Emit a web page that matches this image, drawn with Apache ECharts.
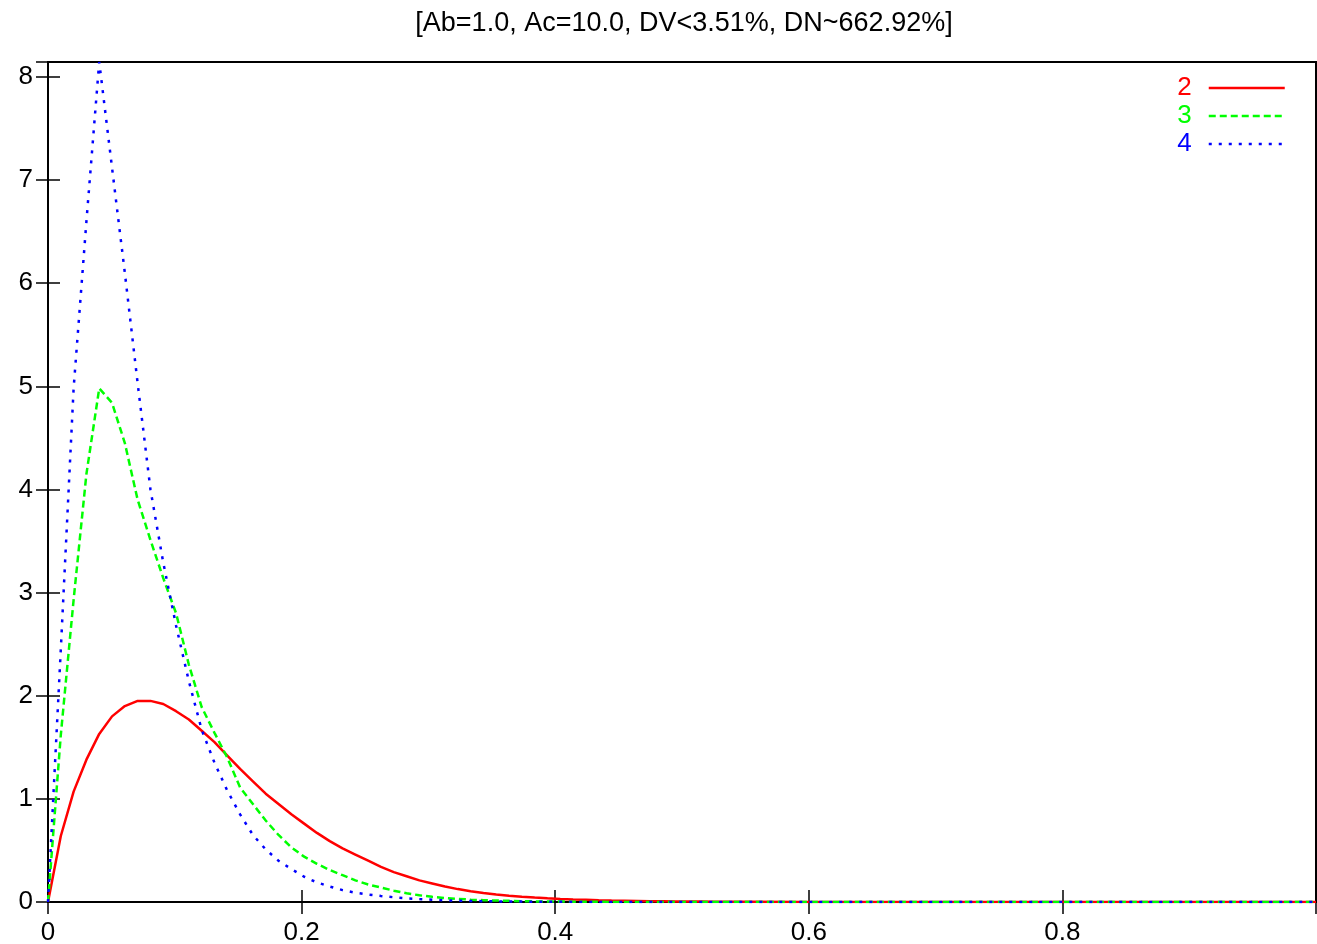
<!DOCTYPE html>
<html>
<head>
<meta charset="utf-8">
<script src="https://cdn.jsdelivr.net/npm/echarts@6/dist/echarts.min.js"></script>
<style>
html,body{margin:0;padding:0;background:#fff;}
#chart{width:1317px;height:944px;}
</style>
</head>
<body>
<div id="chart"></div>
<script>
const titleText = "[Ab=1.0, Ac=10.0, DV<3.51%, DN~662.92%]";
const seriesNames = ["2", "3", "4"];
const xs = [0, 0.0101, 0.0202, 0.0303, 0.0404, 0.0505, 0.0606, 0.0707, 0.0808, 0.0909,
  0.1010, 0.1111, 0.1212, 0.1313, 0.1414, 0.1515, 0.1616, 0.1717, 0.1818, 0.1919,
  0.2020, 0.2121, 0.2222, 0.2323, 0.2424, 0.2525, 0.2626, 0.2727, 0.2828, 0.2929,
  0.3030, 0.3131, 0.3232, 0.3333, 0.3434, 0.3535, 0.3636, 0.3737, 0.3838, 0.3939,
  0.4040, 0.4141, 0.4242, 0.4343, 0.4444, 0.4545, 0.4646, 0.4747, 0.4848, 0.4949,
  0.5051, 0.5152, 0.5253, 0.5354, 0.5455, 0.5556, 0.6, 0.7, 1.0];
const red = [0, 0.64, 1.07, 1.38, 1.63, 1.80, 1.90, 1.95, 1.95, 1.92,
  1.85, 1.77, 1.66, 1.55, 1.42, 1.29, 1.17, 1.05, 0.95, 0.85,
  0.76, 0.67, 0.59, 0.52, 0.46, 0.40, 0.34, 0.29, 0.25, 0.21,
  0.18, 0.15, 0.125, 0.105, 0.088, 0.073, 0.061, 0.051, 0.043, 0.036,
  0.030, 0.025, 0.021, 0.017, 0.014, 0.012, 0.010, 0.008, 0.007, 0.006,
  0.005, 0.004, 0.003, 0.003, 0.002, 0.002, 0.001, 0, 0];
const green = [0, 1.62, 2.93, 4.15, 4.98, 4.84, 4.45, 3.90, 3.51, 3.14,
  2.80, 2.30, 1.89, 1.64, 1.40, 1.11, 0.95, 0.79, 0.65, 0.53,
  0.44, 0.37, 0.31, 0.26, 0.21, 0.17, 0.14, 0.11, 0.085, 0.065,
  0.05, 0.039, 0.03, 0.023, 0.018, 0.014, 0.011, 0.008, 0.006, 0.005,
  0.004, 0.003, 0.002, 0.002, 0.001, 0.001, 0.001, 0, 0, 0,
  0, 0, 0, 0, 0, 0, 0, 0, 0];
const blue = [0, 2.45, 4.98, 6.6, 8.145, 7.12, 6.1, 5.03, 4.0, 3.29,
  2.68, 2.14, 1.67, 1.35, 1.08, 0.85, 0.65, 0.51, 0.40, 0.32,
  0.245, 0.19, 0.15, 0.115, 0.09, 0.072, 0.058, 0.046, 0.036, 0.028,
  0.022, 0.017, 0.013, 0.01, 0.008, 0.006, 0.005, 0.004, 0.003, 0.002,
  0.002, 0.001, 0.001, 0.001, 0, 0, 0, 0, 0, 0,
  0, 0, 0, 0, 0, 0, 0, 0, 0];
const xTickLabels = ["0", "0.2", "0.4", "0.6", "0.8", "1"];
const yTickLabels = ["0", "1", "2", "3", "4", "5", "6", "7", "8"];

const FONT = "'Liberation Sans', Arial, Helvetica, sans-serif";
const colors = ["#ff0000", "#00ff00", "#0000ff"];
const dashes = ["solid", [7, 4], [3, 7]];
const values = [red, green, blue];

function pairs(arr) { return xs.map((x, i) => [x, arr[i]]); }

const chart = echarts.init(document.getElementById('chart'), null, {renderer: 'canvas'});
const axisCommonX = {
  type: 'value', min: 0, max: 1, interval: 0.2,
  axisLine: {show: true, lineStyle: {color: '#000', width: 2}},
  axisTick: {show: true, inside: true, length: 12, lineStyle: {color: '#000', width: 1.5}},
  splitLine: {show: false}
};
const axisCommonY = {
  type: 'value', min: 0, max: 8.145, interval: 1,
  axisLine: {show: true, lineStyle: {color: '#000', width: 2}},
  axisTick: {show: true, inside: true, length: 12, lineStyle: {color: '#000', width: 1.5}},
  splitLine: {show: false}
};
const option = {
  animation: false,
  backgroundColor: '#fff',
  title: {
    text: titleText, left: 679, top: 5, textAlign: 'center',
    textStyle: {fontSize: 27, fontWeight: 'normal', color: '#000', fontFamily: FONT}
  },
  legend: {
    orient: 'vertical', right: 26, top: 70, align: 'right',
    itemWidth: 76, itemHeight: 25, itemGap: 2,
    itemStyle: {opacity: 0},
    lineStyle: {width: 2.5},
    textStyle: {fontSize: 26, fontFamily: FONT, padding: [0, 12, 0, 0]},
    data: seriesNames.map((n, i) => ({name: n, textStyle: {color: colors[i]}}))
  },
  grid: {left: 48, top: 62, width: 1268, height: 840, show: true, borderColor: '#000', borderWidth: 2,
    outerBoundsMode: 'none', containLabel: false},
  xAxis: [
    Object.assign({}, axisCommonX, {position: 'bottom',
      axisLabel: {show: true, margin: 18, color: '#000', fontSize: 26, fontFamily: FONT, showMaxLabel: false,
        formatter: (v) => xTickLabels[Math.round(v / 0.2)] ?? ''}}),
    Object.assign({}, axisCommonX, {position: 'top', axisLabel: {show: false}})
  ],
  yAxis: [
    Object.assign({}, axisCommonY, {position: 'left',
      axisLabel: {show: true, margin: 15, color: '#000', fontSize: 26, fontFamily: FONT, showMaxLabel: false,
        formatter: (v) => (Math.abs(v - Math.round(v)) < 1e-6 ? (yTickLabels[Math.round(v)] ?? '') : '')}}),
    Object.assign({}, axisCommonY, {position: 'right', axisLabel: {show: false}})
  ],
  series: seriesNames.map((n, i) => ({
    name: n, type: 'line', data: pairs(values[i]),
    xAxisIndex: 0, yAxisIndex: 0,
    symbol: 'none', showSymbol: false, smooth: false,
    lineStyle: {color: colors[i], width: 2.5, type: dashes[i]},
    itemStyle: {color: colors[i]},
    emphasis: {disabled: true}
  }))
};
chart.setOption(option);
</script>
</body>
</html>
